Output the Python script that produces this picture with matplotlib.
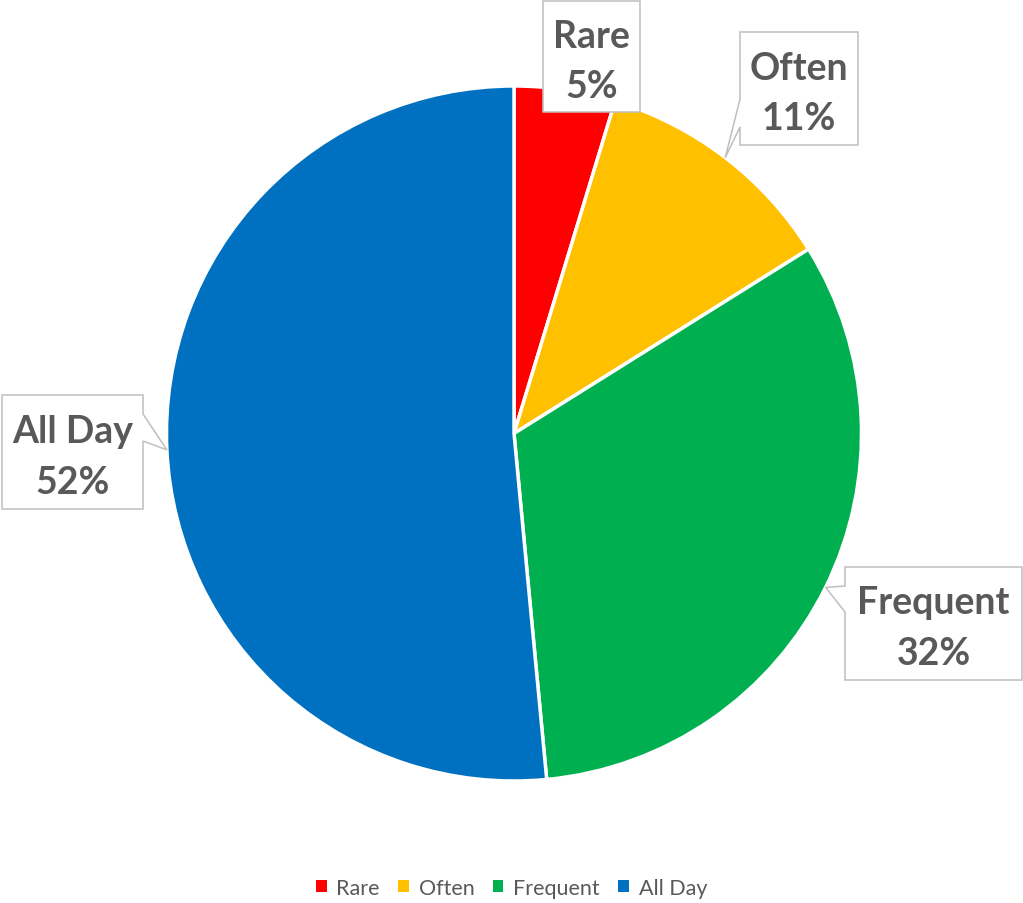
import numpy as np
import matplotlib.pyplot as plt
from matplotlib.patches import Polygon, Patch

plt.rcParams['font.family'] = ['Lato', 'DejaVu Sans']

# Data
categories = ['Rare', 'Often', 'Frequent', 'All Day']
shares = [4.7, 11.4, 32.4, 51.5]
colors = ['#FF0000', '#FFC000', '#00B050', '#0070C0']

W, H = 1023, 904
text_color = '#595959'
box_edge = '#BFBFBF'

fig = plt.figure(figsize=(W / 100, H / 100), dpi=100)
ax = fig.add_axes([0, 0, 1, 1])

# pie in pixel-like coordinates (y up)
cx, cy, R = 514, H - 434.5, 347.5
wedges, _ = ax.pie(shares, colors=colors, startangle=90, counterclock=False,
                   center=(cx, cy), radius=R,
                   wedgeprops=dict(edgecolor='white', linewidth=2.5))
ax.set_xlim(0, W)
ax.set_ylim(0, H)
ax.set_aspect('equal')
ax.axis('off')

pct = np.array(shares) / sum(shares) * 100


def tip_of(w):
    # point on the rim at the middle of the wedge
    a = np.radians((w.theta1 + w.theta2) / 2)
    return (cx + R * np.cos(a), cy + R * np.sin(a))


def callout(x0, top, x1, bottom, side=None, base=None, tip=None):
    # box given in top-down pixel values, convert to y-up
    y1, y0 = H - top, H - bottom
    pts = [(x0, y1), (x1, y1)]
    if side == 'right':
        b_hi, b_lo = H - base[0], H - base[1]
        pts += [(x1, b_hi), tip, (x1, b_lo)]
    pts += [(x1, y0), (x0, y0)]
    if side == 'left':
        b_hi, b_lo = H - base[0], H - base[1]
        pts += [(x0, b_lo), tip, (x0, b_hi)]
    ax.add_patch(Polygon(pts, closed=True, facecolor='white',
                         edgecolor=box_edge, linewidth=1.1, zorder=5))
    return (x0 + x1) / 2, (y0 + y1) / 2


# label boxes: (x0, top, x1, bottom, pointer side, pointer base)
layout = {
    'Rare': (543, 2, 640, 113, None, None),
    'Often': (740, 33, 858, 146, 'left', (100, 128)),
    'Frequent': (845, 568, 1022, 681, 'left', (587, 613)),
    'All Day': (2, 396, 143, 510, 'right', (415, 442)),
}

for w, name, p in zip(wedges, categories, pct):
    x0, top, x1, bottom, side, base = layout[name]
    tx, ty = callout(x0, top, x1, bottom, side, base, tip_of(w) if side else None)
    ax.text(tx, ty + 10, name, ha='center', va='baseline', fontsize=27,
            fontweight='bold', color=text_color, zorder=6)
    ax.text(tx, ty - 41, f'{int(np.floor(p + 0.5))}%', ha='center', va='baseline',
            fontsize=27, fontweight='bold', color=text_color, zorder=6)

handles = [Patch(facecolor=c, edgecolor='none') for c in colors]
leg = ax.legend(handles, categories, loc='center', bbox_to_anchor=(0.5, 15 / H),
                ncol=4, frameon=False, fontsize=15.5, handlelength=0.5,
                handleheight=0.5, handletextpad=0.45, columnspacing=0.85)
for t in leg.get_texts():
    t.set_color(text_color)

fig.savefig('out.png', dpi=100)
